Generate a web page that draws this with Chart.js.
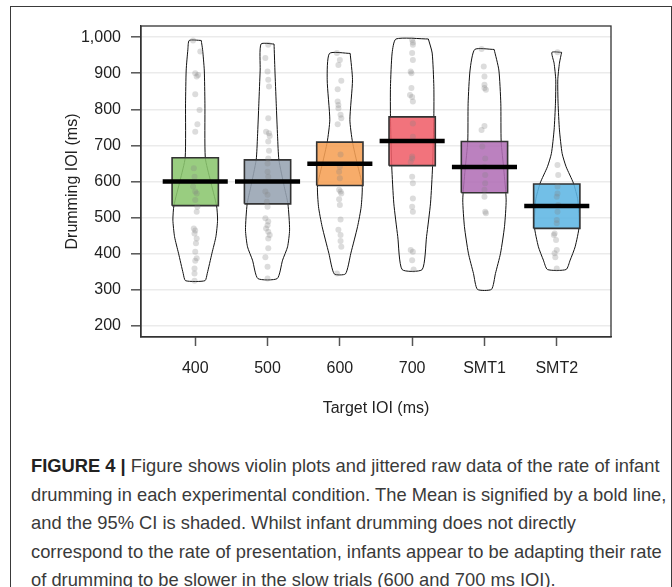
<!DOCTYPE html>
<html>
<head>
<meta charset="utf-8">
<script src="https://cdn.jsdelivr.net/npm/chart.js@4.4.0/dist/chart.umd.min.js"></script>
<style>
  body { margin: 0; background: #fff; width: 672px; height: 587px; overflow: hidden; position: relative;
         font-family: "Liberation Sans", Arial, sans-serif; }
  #frame { position: absolute; left: 10px; top: 6px; width: 660px; height: 700px; border: 1.5px solid #3a3a3a; }
  #wrap { position: absolute; left: 0; top: 0; width: 672px; height: 440px; }
  #caption { position: absolute; left: 31px; top: 452px; font-size: 17px; line-height: 28.5px; color: #3a3a3a; white-space: nowrap; }
  #caption b { color: #222; }
</style>
</head>
<body>
<div id="frame"></div>
<div id="wrap"><canvas id="mycanvas" width="672" height="440"></canvas></div>
<div id="caption"><span id="line1"><b>FIGURE 4 |</b> Figure shows violin plots and jittered raw data of the rate of infant</span><br>drumming in each experimental condition. The Mean is signified by a bold line,<br>and the 95% CI is shaded. Whilst infant drumming does not directly<br>correspond to the rate of presentation, infants appear to be adapting their rate<br>of drumming to be slower in the slow trials (600 and 700 ms IOI).</div>
<script>
// conditions
var categories = ['400', '500', '600', '700', 'SMT1', 'SMT2'];
var yTicks = [200, 300, 400, 500, 600, 700, 800, 900, 1000];

// mean and 95% CI per condition
var means = [600, 600, 649, 712, 640, 532];
var ciLow = [533, 538, 589, 644, 569, 470];
var ciHigh = [666, 660, 709, 779, 711, 593];

// violin outlines: y values and half widths (x units)
var violinY = [
  [991, 965, 909, 817, 666, 604, 533, 493, 447, 401, 345, 325],
  [981, 909, 817, 724, 660, 586, 538, 466, 419, 382, 331],
  [955, 882, 771, 709, 650, 589, 530, 475, 401, 344],
  [995, 956, 863, 780, 641, 540, 447, 356],
  [966, 909, 817, 711, 632, 549, 475, 401, 345, 301],
  [958, 928, 882, 817, 743, 678, 641, 595, 549, 475, 419, 382, 356]
];
var violinW = [
  [0.083, 0.102, 0.125, 0.134, 0.139, 0.208, 0.295, 0.309, 0.286, 0.231, 0.166, 0.134],
  [0.090, 0.102, 0.120, 0.139, 0.157, 0.231, 0.282, 0.305, 0.277, 0.208, 0.134],
  [0.143, 0.175, 0.139, 0.175, 0.240, 0.309, 0.295, 0.245, 0.152, 0.078],
  [0.224, 0.277, 0.300, 0.300, 0.282, 0.254, 0.199, 0.139],
  [0.134, 0.199, 0.226, 0.231, 0.268, 0.300, 0.277, 0.222, 0.152, 0.097],
  [0.067, 0.037, 0.014, 0.018, 0.037, 0.074, 0.129, 0.231, 0.291, 0.309, 0.254, 0.185, 0.129]
];

// raw drumming IOIs and their jitter
var rawData = [
  [991, 960, 900, 895, 891, 842, 798, 759, 738, 637, 613, 586, 572, 567, 549, 530, 516, 470, 464, 456, 442, 429, 405, 387, 380, 359, 345, 325],
  [979, 942, 905, 882, 863, 775, 738, 734, 726, 711, 685, 664, 650, 627, 613, 572, 563, 544, 530, 498, 489, 479, 470, 461, 452, 442, 415, 390, 364, 331],
  [956, 937, 923, 879, 856, 822, 812, 803, 785, 775, 759, 675, 641, 627, 609, 577, 572, 567, 551, 535, 495, 466, 452, 435, 419, 345],
  [993, 985, 979, 956, 937, 905, 900, 859, 840, 834, 822, 761, 724, 669, 664, 655, 613, 595, 553, 530, 516, 410, 405, 382, 356],
  [967, 919, 891, 868, 859, 854, 754, 743, 697, 664, 641, 618, 595, 577, 558, 516, 512, 503, 489, 466, 433, 410, 392, 355, 301],
  [958, 646, 618, 586, 567, 558, 535, 516, 493, 484, 456, 452, 438, 410, 401, 390, 359]
];
var jitter = [
  [-0.03, 0.07, 0, 0.04, 0.02, 0, 0.06, 0.03, 0, -0.02, -0.01, -0.03, 0, 0.02, 0, 0.03, 0.02, -0.02, 0, -0.01, 0.02, 0.01, 0, 0.02, 0, -0.01, -0.01, -0.01],
  [0.01, -0.03, 0, 0.01, 0.02, 0.01, -0.02, 0.02, 0.03, 0.01, 0.02, 0.01, 0, 0, 0.01, -0.03, 0, -0.01, 0, -0.03, 0.01, 0, -0.02, 0.01, 0.03, 0.01, 0.01, -0.03, 0, 0],
  [-0.04, 0, -0.02, 0.02, -0.03, -0.03, -0.02, -0.02, 0.01, 0.02, -0.03, 0.01, 0, -0.01, 0, -0.01, 0.01, 0.02, -0.01, 0, 0.01, -0.02, 0.01, 0.01, 0.02, -0.04],
  [0, 0.01, 0.01, 0, 0.01, -0.02, -0.01, -0.01, -0.03, 0, 0.01, 0.01, 0.01, 0, 0, -0.02, 0, 0.01, 0.01, 0, 0.01, -0.02, 0.01, 0, 0.02],
  [-0.04, -0.01, 0, 0, 0, 0.02, 0, -0.04, -0.03, 0.01, 0, 0.01, 0.01, 0, 0, 0.01, 0.02],
  [0.01, 0.01, 0.02, 0.01, 0.01, 0, 0.02, 0.01, 0, 0, -0.03, -0.04, -0.01, 0, -0.03, -0.02, 0]
];

var boxColors = ['rgba(139,198,110,0.88)', 'rgba(150,163,178,0.88)', 'rgba(246,160,85,0.88)',
                 'rgba(240,96,106,0.88)', 'rgba(178,112,182,0.88)', 'rgba(94,182,228,0.88)'];
var BOX_HALF = 0.32;
var MEAN_HALF = 0.45;

var datasets = [];
var points = [];
categories.forEach(function(cat, i) {
  var x = i + 1;
  // violin outline
  var outline = [];
  for (var k = 0; k < violinY[i].length; k++) outline.push({x: x + violinW[i][k], y: violinY[i][k]});
  for (var k = violinY[i].length - 1; k >= 0; k--) outline.push({x: x - violinW[i][k], y: violinY[i][k]});
  outline.push(outline[0]);
  datasets.push({
    data: outline, showLine: true, borderColor: '#111', borderWidth: 1,
    pointRadius: 0, tension: 0.2, fill: false, order: 4
  });
  // CI box
  datasets.push({
    data: [{x: x - BOX_HALF, y: ciLow[i]}, {x: x + BOX_HALF, y: ciLow[i]}, {x: x + BOX_HALF, y: ciHigh[i]},
           {x: x - BOX_HALF, y: ciHigh[i]}, {x: x - BOX_HALF, y: ciLow[i]}],
    showLine: true, fill: 'shape', backgroundColor: boxColors[i], borderColor: '#333',
    borderWidth: 1.6, pointRadius: 0, tension: 0, order: 3
  });
  // mean line
  datasets.push({
    data: [{x: x - MEAN_HALF, y: means[i]}, {x: x + MEAN_HALF, y: means[i]}],
    showLine: true, borderColor: '#000', borderWidth: 4.5, borderCapStyle: 'butt',
    pointRadius: 0, fill: false, order: 1
  });
  for (var j = 0; j < rawData[i].length; j++) points.push({x: x + jitter[i][j], y: rawData[i][j]});
});
datasets.push({
  data: points, pointRadius: 3, pointBackgroundColor: 'rgba(130,130,130,0.28)',
  pointBorderWidth: 0, showLine: false, order: 2
});

var plotBox = {
  id: 'plotBox',
  afterDraw: function(chart) {
    var a = chart.chartArea, ctx = chart.ctx;
    ctx.save();
    ctx.strokeStyle = '#333';
    ctx.lineWidth = 1.3;
    ctx.strokeRect(a.left, a.top, a.right - a.left, a.bottom - a.top);
    ctx.restore();
  }
};

var ctx = document.getElementById('mycanvas');
var chart = new Chart(ctx, {
  type: 'scatter',
  data: {datasets: datasets},
  options: {
    responsive: false,
    animation: false,
    layout: {padding: {left: 59, top: 26, right: 61, bottom: 18}},
    plugins: {legend: {display: false}, tooltip: {enabled: false}},
    scales: {
      x: {
        type: 'linear', min: 0.25, max: 6.75,
        afterBuildTicks: function(axis) { axis.ticks = categories.map(function(c, i) { return {value: i + 1}; }); },
        afterFit: function(s) { s.height = 85; },
        ticks: {
          callback: function(v) { return categories[v - 1]; },
          font: {family: 'Liberation Sans', size: 16}, color: '#222', padding: 13, maxRotation: 0, autoSkip: false
        },
        grid: {drawOnChartArea: false, tickLength: 9, tickColor: '#555', tickWidth: 1.5},
        border: {color: '#333', width: 1.3},
        title: {display: true, text: 'Target IOI (ms)', font: {family: 'Liberation Sans', size: 16}, color: '#222', padding: {top: 4, bottom: 4}}
      },
      y: {
        min: 169, max: 1031,
        afterBuildTicks: function(axis) { axis.ticks = yTicks.map(function(v) { return {value: v}; }); },
        afterFit: function(s) { s.width = 82; },
        ticks: {
          callback: function(v) { return v.toLocaleString('en-US'); },
          font: {family: 'Liberation Sans', size: 16}, color: '#222', padding: 10
        },
        grid: {color: '#ebebeb', lineWidth: 1.6, tickLength: 10, tickColor: '#555', tickWidth: 1.5},
        border: {color: '#333', width: 1.3},
        title: {display: true, text: 'Drumming IOI (ms)', font: {family: 'Liberation Sans', size: 16}, color: '#222', padding: {top: 4, bottom: 4}}
      }
    }
  },
  plugins: [plotBox]
});

// fit caption line width to the figure
var line1 = document.getElementById('line1');
var cap = document.getElementById('caption');
var w = line1.getBoundingClientRect().width;
cap.style.fontSize = (17 * 629 / w).toFixed(2) + 'px';
</script>
</body>
</html>
